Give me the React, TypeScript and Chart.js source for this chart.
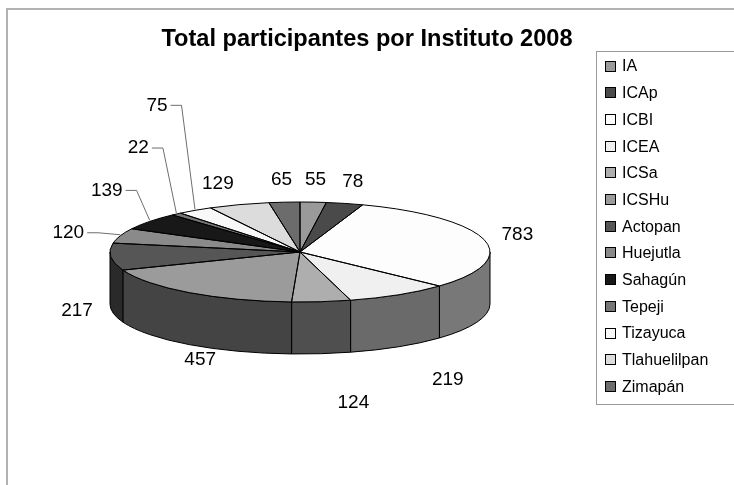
import React, { useEffect, useRef } from "react";
import { Chart, registerables } from "chart.js";

Chart.register(...registerables);

const titleText = "Total participantes por Instituto 2008";
const categories = ["IA", "ICAp", "ICBI", "ICEA", "ICSa", "ICSHu", "Actopan", "Huejutla", "Sahagún", "Tepeji", "Tizayuca", "Tlahuelilpan", "Zimapán"];
const participants = [55, 78, 783, 219, 124, 457, 217, 120, 139, 22, 75, 129, 65];
const faceColors = ["#9a9a9a", "#4a4a4a", "#fdfdfd", "#f0f0f0", "#aeaeae", "#9b9b9b", "#565656", "#8a8a8a", "#181818", "#767676", "#f8f8f8", "#dcdcdc", "#6c6c6c"];
const wallColors = ["#6a6a6a", "#303030", "#787878", "#6a6a6a", "#4f4f4f", "#444444", "#2a2a2a", "#5a5a5a", "#101010", "#505050", "#aaaaaa", "#999999", "#4a4a4a"];

// label placement tweaks (pixel nudges relative to the rim point of each slice)
const labelShift: Record<string, [number, number]> = {
  ICEA: [49, 33],
  ICSa: [32, 49],
  ICSHu: [11, 15],
  Tlahuelilpan: [-21, -21],
};
const leaderShift: Record<string, [number, number]> = {
  Huejutla: [-52, -3],
  "Sahagún": [-43, -31],
  Tepeji: [-38, -66],
  Tizayuca: [-38, -105],
};

const FONT = "'Liberation Sans', Arial, sans-serif";

const framePlugin = {
  id: "frame",
  beforeDraw(chart: any) {
    const ctx = chart.ctx;
    ctx.save();
    ctx.strokeStyle = "#b2b2b2";
    ctx.lineWidth = 2;
    ctx.beginPath();
    ctx.moveTo(7, chart.height);
    ctx.lineTo(7, 9);
    ctx.lineTo(chart.width, 9);
    ctx.stroke();
    ctx.restore();
  },
};

const pie3dPlugin = {
  id: "pie3d",
  beforeDatasetsDraw(chart: any, _args: any, opts: any) {
    const ctx = chart.ctx;
    const arcs = chart.getDatasetMeta(0).data;
    const a0 = arcs[0];
    const R = a0.outerRadius;
    const cx = opts.centerX, cy = opts.centerY;
    const rx = R, ry = R * opts.tilt, d = opts.depth;
    ctx.save();
    ctx.lineWidth = 1;
    ctx.strokeStyle = "#000";
    ctx.lineJoin = "round";
    arcs.forEach((arc: any, i: number) => {
      const b1 = Math.max(arc.startAngle, 0);
      const b2 = Math.min(arc.endAngle, Math.PI);
      if (b2 <= b1) return;
      ctx.beginPath();
      ctx.ellipse(cx, cy, rx, ry, 0, b1, b2, false);
      ctx.ellipse(cx, cy + d, rx, ry, 0, b2, b1, true);
      ctx.closePath();
      ctx.fillStyle = wallColors[i];
      ctx.fill();
      ctx.stroke();
    });
    ctx.restore();
    ctx.save();
    ctx.translate(cx, cy);
    ctx.scale(1, opts.tilt);
    ctx.translate(-a0.x, -a0.y);
  },
  afterDatasetsDraw(chart: any, _args: any, opts: any) {
    const ctx = chart.ctx;
    ctx.restore();
    const arcs = chart.getDatasetMeta(0).data;
    const R = arcs[0].outerRadius;
    const cx = opts.centerX, cy = opts.centerY;
    const rx = R, ry = R * opts.tilt, d = opts.depth;
    ctx.save();
    ctx.lineWidth = 1;
    ctx.strokeStyle = "#000";
    ctx.lineJoin = "round";
    arcs.forEach((arc: any) => {
      ctx.beginPath();
      ctx.moveTo(cx, cy);
      ctx.lineTo(cx + rx * Math.cos(arc.startAngle), cy + ry * Math.sin(arc.startAngle));
      ctx.ellipse(cx, cy, rx, ry, 0, arc.startAngle, arc.endAngle, false);
      ctx.closePath();
      ctx.stroke();
    });
    // labels
    ctx.font = `19px ${FONT}`;
    ctx.fillStyle = "#000";
    ctx.textAlign = "center";
    ctx.textBaseline = "middle";
    const values = chart.data.datasets[0].data;
    arcs.forEach((arc: any, i: number) => {
      const m = (arc.startAngle + arc.endAngle) / 2;
      const c = Math.cos(m), s = Math.sin(m);
      const px = cx + rx * c;
      const py = cy + ry * s + (s > 0 ? d : 0);
      const name = chart.data.labels[i];
      const text = String(values[i]);
      const lead = leaderShift[name];
      if (lead) {
        const tx = px + lead[0], ty = py + lead[1];
        ctx.fillText(text, tx, ty);
        const w = ctx.measureText(text).width;
        ctx.save();
        ctx.strokeStyle = "#6e6e6e";
        ctx.beginPath();
        ctx.moveTo(tx + w / 2 + 3, ty);
        ctx.lineTo(tx + w / 2 + 14, ty);
        ctx.lineTo(px, py - 1);
        ctx.stroke();
        ctx.restore();
        return;
      }
      const sh = labelShift[name] || [c * 34, s * 22];
      ctx.fillText(text, px + sh[0], py + sh[1]);
    });
    ctx.restore();
  },
};

const legendBoxPlugin = {
  id: "legendBox",
  afterDraw(chart: any, _args: any, opts: any) {
    const ctx = chart.ctx;
    ctx.save();
    ctx.strokeStyle = "#9a9a9a";
    ctx.lineWidth = 1;
    ctx.strokeRect(opts.x + 0.5, opts.y + 0.5, opts.w, opts.h);
    ctx.font = `16px ${FONT}`;
    ctx.textAlign = "left";
    ctx.textBaseline = "middle";
    const labels = chart.data.labels;
    const colors = chart.data.datasets[0].backgroundColor;
    labels.forEach((lab: string, i: number) => {
      const yc = opts.firstRow + i * opts.step;
      ctx.fillStyle = colors[i];
      ctx.fillRect(opts.boxX, Math.round(yc - opts.box / 2), opts.box, opts.box);
      ctx.strokeStyle = "#000";
      ctx.strokeRect(opts.boxX + 0.5, Math.round(yc - opts.box / 2) + 0.5, opts.box - 1, opts.box - 1);
      ctx.fillStyle = "#000";
      ctx.fillText(lab, opts.textX, yc + 1);
    });
    ctx.restore();
  },
};

export default function App() {
  const ref = useRef<HTMLCanvasElement | null>(null);
  useEffect(() => {
    if (!ref.current) return;
    const chart = new Chart(ref.current, {
      type: "pie",
      data: {
        labels: categories,
        datasets: [
          {
            data: participants,
            backgroundColor: faceColors,
            borderWidth: 0,
            radius: 190,
            clip: false,
          } as any,
        ],
      },
      options: {
        responsive: false,
        animation: false,
        events: [],
        layout: { padding: 0 },
        plugins: {
          legend: { display: false },
          tooltip: { enabled: false },
          title: {
            display: true,
            text: titleText,
            color: "#000",
            font: { family: FONT, size: 23.6, weight: "bold" },
            padding: { top: 25, bottom: 10 },
          },
          pie3d: { centerX: 300, centerY: 252, tilt: 50 / 190, depth: 52 },
          legendBox: { x: 596, y: 51, w: 220, h: 353, firstRow: 66, step: 26.7, box: 11, boxX: 605, textX: 622 },
        } as any,
      },
      plugins: [framePlugin, pie3dPlugin, legendBoxPlugin],
    });
    return () => chart.destroy();
  }, []);
  return (
    <div style={{ position: "fixed", left: 0, top: 0, width: 734, height: 485, background: "#fff" }}>
      <canvas ref={ref} width={734} height={485} style={{ display: "block", width: 734, height: 485 }} />
    </div>
  );
}
